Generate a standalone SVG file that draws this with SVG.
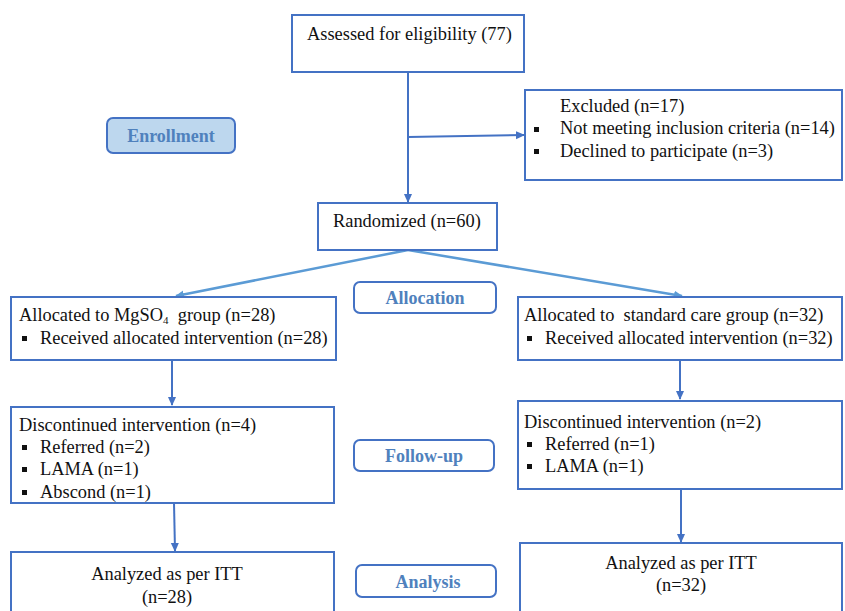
<svg xmlns="http://www.w3.org/2000/svg" width="845" height="611" viewBox="0 0 845 611">
<style>
.box{fill:#fff;stroke:#4472c4;stroke-width:2}
.lab{fill:#fff;stroke:#4472c4;stroke-width:2}
.t{font-family:"Liberation Serif","Times New Roman",serif;font-size:18.4px;fill:#111}
.lt{font-family:"Liberation Serif","Times New Roman",serif;font-size:18px;font-weight:bold;fill:#4f81bd;text-anchor:middle}
.c{stroke:#4472c4;stroke-width:2;fill:none}
.d{stroke:#5b9bd5;stroke-width:2.5;fill:none}
</style>
<defs>
<marker id="a" markerWidth="10" markerHeight="10" refX="8" refY="5" orient="auto" markerUnits="userSpaceOnUse"><path d="M0,1 L9,5 L0,9 Z" fill="#4472c4"/></marker>
<marker id="b" markerWidth="10" markerHeight="10" refX="8" refY="5" orient="auto" markerUnits="userSpaceOnUse"><path d="M0,1 L9,5 L0,9 Z" fill="#5b9bd5"/></marker>
</defs>
<g id="connectors">
<path class="c" d="M408,72 V202" marker-end="url(#a)"/>
<path class="c" d="M408,137 L524,135" marker-end="url(#a)"/>
<path class="d" d="M408,250 L176,296" marker-end="url(#b)"/>
<path class="d" d="M408,250 L682,296" marker-end="url(#b)"/>
<path class="c" d="M172,360 V405" marker-end="url(#a)"/>
<path class="c" d="M680,360 V399" marker-end="url(#a)"/>
<path class="c" d="M174,503 L175,551" marker-end="url(#a)"/>
<path class="c" d="M681,489 V542" marker-end="url(#a)"/>
</g>
<g id="assessed"><rect class="box" x="292" y="15" width="232" height="57"/><text class="t" x="307" y="40">Assessed for eligibility (77)</text></g>
<g id="excluded"><rect class="box" x="525" y="90" width="317" height="90"/>
<text class="t" x="560" y="112">Excluded (n=17)</text>
<rect x="534" y="127" width="5" height="5" fill="#111"/><text class="t" x="560" y="134">Not meeting inclusion criteria (n=14)</text>
<rect x="534" y="149" width="5" height="5" fill="#111"/><text class="t" x="560" y="157">Declined to participate (n=3)</text></g>
<g id="enrollment"><rect x="107" y="118" width="128" height="35" rx="6" fill="#bdd7ee" stroke="#4472c4" stroke-width="2"/><text class="lt" x="171" y="142">Enrollment</text></g>
<g id="randomized"><rect class="box" x="318" y="203" width="179" height="47"/><text class="t" x="333" y="227">Randomized (n=60)</text></g>
<g id="allocation"><rect class="lab" x="354" y="282" width="142" height="31" rx="6"/><text class="lt" x="425" y="304">Allocation</text></g>
<g id="alloc-left"><rect class="box" x="11" y="297" width="325" height="63"/>
<text class="t" x="19" y="321" xml:space="preserve">Allocated to MgSO<tspan font-size="11" dy="3">4</tspan><tspan dy="-3">  group (n=28)</tspan></text>
<rect x="22" y="336" width="5" height="5" fill="#111"/><text class="t" x="40" y="344">Received allocated intervention (n=28)</text></g>
<g id="alloc-right"><rect class="box" x="518" y="297" width="324" height="63"/>
<text class="t" x="524" y="321" xml:space="preserve">Allocated to  standard care group (n=32)</text>
<rect x="527" y="336" width="5" height="5" fill="#111"/><text class="t" x="545" y="344">Received allocated intervention (n=32)</text></g>
<g id="disc-left"><rect class="box" x="11" y="407" width="323" height="96"/>
<text class="t" x="19" y="431">Discontinued intervention (n=4)</text>
<rect x="22" y="445" width="5" height="5" fill="#111"/><text class="t" x="40" y="453">Referred (n=2)</text>
<rect x="22" y="467" width="5" height="5" fill="#111"/><text class="t" x="40" y="475">LAMA (n=1)</text>
<rect x="22" y="490" width="5" height="5" fill="#111"/><text class="t" x="40" y="498">Abscond (n=1)</text></g>
<g id="followup"><rect class="lab" x="354" y="440" width="140" height="31" rx="6"/><text class="lt" x="424" y="462">Follow-up</text></g>
<g id="disc-right"><rect class="box" x="518" y="401" width="324" height="88"/>
<text class="t" x="524" y="428">Discontinued intervention (n=2)</text>
<rect x="527" y="442" width="5" height="5" fill="#111"/><text class="t" x="545" y="450">Referred (n=1)</text>
<rect x="527" y="464" width="5" height="5" fill="#111"/><text class="t" x="545" y="472">LAMA (n=1)</text></g>
<g id="an-left"><rect class="box" x="11" y="552" width="323" height="70"/>
<text class="t" x="167" y="580" text-anchor="middle">Analyzed as per ITT</text>
<text class="t" x="167" y="603" text-anchor="middle">(n=28)</text></g>
<g id="analysis"><rect class="lab" x="356" y="565" width="140" height="32" rx="6"/><text class="lt" x="428" y="588">Analysis</text></g>
<g id="an-right"><rect class="box" x="520" y="543" width="322" height="80"/>
<text class="t" x="681" y="569" text-anchor="middle">Analyzed as per ITT</text>
<text class="t" x="681" y="591" text-anchor="middle">(n=32)</text></g>
</svg>
